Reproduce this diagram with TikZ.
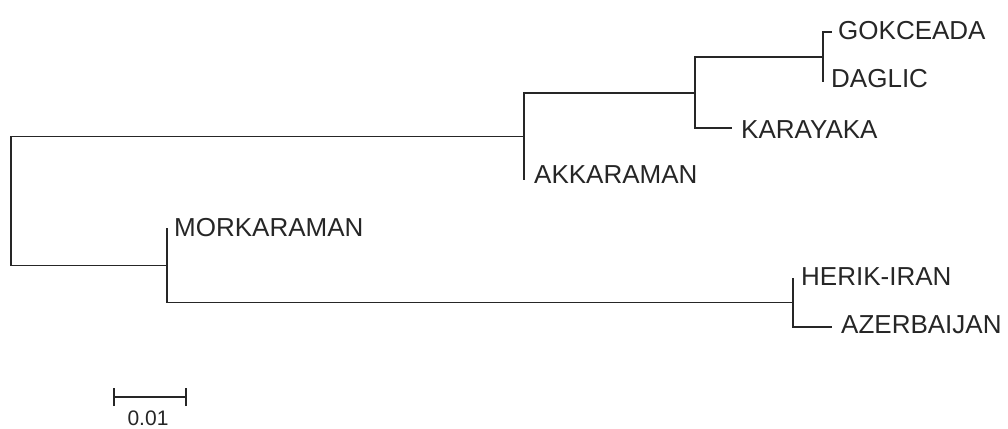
\documentclass[tikz,border=0pt]{standalone}
\usepackage{fontspec}
\setmainfont{Liberation Sans}
\begin{document}
\begin{tikzpicture}[x=1pt,y=-1pt,
  branch/.style={line width=1.9pt,black!85},
  leaf/.style={anchor=base west,inner sep=0pt,text=black!85,font=\fontsize{26}{30}\selectfont},
  scalelbl/.style={anchor=base,inner sep=0pt,text=black!85,font=\fontsize{21}{25}\selectfont}]
\useasboundingbox (0,0) rectangle (1008,428);

% internal nodes
\coordinate (root) at (11,201);
\coordinate (nA) at (524,136.5);
\coordinate (nB) at (695,93);
\coordinate (nC) at (823,57);
\coordinate (nD) at (167,265.5);
\coordinate (nE) at (793,302.5);

% tips
\coordinate (tGok) at (832,32);
\coordinate (tDag) at (823,82);
\coordinate (tKar) at (732,128);
\coordinate (tAkk) at (524,180);
\coordinate (tMor) at (167,228);
\coordinate (tHer) at (793,278);
\coordinate (tAze) at (832,327);

% branches
\draw[branch] (root) |- (nA);
\draw[branch] (root) |- (nD);
\draw[branch] (nA) |- (nB);
\draw[branch] (nA) |- (tAkk);
\draw[branch] (nB) |- (nC);
\draw[branch] (nB) |- (tKar);
\draw[branch] (nC) |- (tGok);
\draw[branch] (nC) |- (tDag);
\draw[branch] (nD) |- (tMor);
\draw[branch] (nD) |- (nE);
\draw[branch] (nE) |- (tHer);
\draw[branch] (nE) |- (tAze);

% taxon labels
\node[leaf] (lGok) at (838,40) {GOKCEADA};
\node[leaf] (lDag) at (831,87) {DAGLIC};
\node[leaf] (lKar) at (741,138) {KARAYAKA};
\node[leaf] (lAkk) at (534,183) {AKKARAMAN};
\node[leaf] (lMor) at (174,236) {MORKARAMAN};
\node[leaf] (lHer) at (801,285) {HERIK-IRAN};
\node[leaf] (lAze) at (841,333) {AZERBAIJAN};

% scale bar
\coordinate (sbL) at (114,397);
\coordinate (sbR) at (186,397);
\draw[branch] (sbL) -- (sbR);
\draw[branch] ([yshift=-9pt]sbL) -- ([yshift=9pt]sbL);
\draw[branch] ([yshift=-9pt]sbR) -- ([yshift=9pt]sbR);
\node[scalelbl] (sbT) at (148,425) {0.01};
\end{tikzpicture}
\end{document}
